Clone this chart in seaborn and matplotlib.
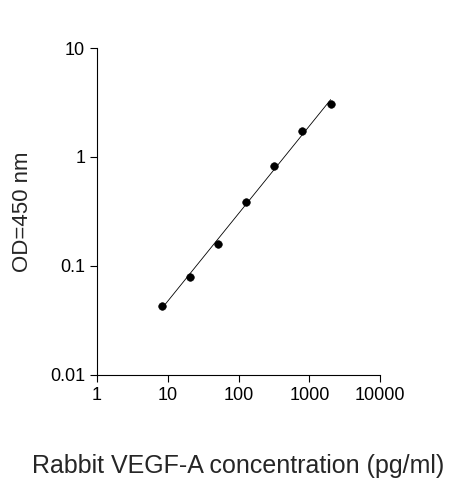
import numpy as np
import matplotlib
matplotlib.use("Agg")
import matplotlib.pyplot as plt
import seaborn as sns

sns.set_style("ticks")
plt.rcParams['font.family'] = ['Liberation Sans', 'DejaVu Sans']

conc = [8.19, 20.48, 51.2, 128, 320, 800, 2000]
od = [0.043, 0.079, 0.159, 0.39, 0.83, 1.73, 3.06]

fig = plt.figure(figsize=(4.63, 4.8), dpi=100)
ax = fig.add_axes([0.2095, 0.219, 0.6115, 0.681])

lx, ly = np.log10(conc), np.log10(od)
b, a = np.polyfit(lx, ly, 1)
xf = np.array([conc[0], conc[-1]])
ax.plot(xf, 10 ** (a + b * np.log10(xf)), color='black', lw=0.6)
sns.scatterplot(x=conc, y=od, ax=ax, color='black', s=30, edgecolor='black', zorder=3)

ax.set_xscale('log'); ax.set_yscale('log')
ax.set_xlim(1, 10000); ax.set_ylim(0.01, 10)
ax.set_xticks([1, 10, 100, 1000, 10000]); ax.set_xticklabels(['1', '10', '100', '1000', '10000'])
ax.set_yticks([0.01, 0.1, 1, 10]); ax.set_yticklabels(['0.01', '0.1', '1', '10'])
ax.minorticks_off()
ax.tick_params(labelsize=13, direction='out', length=5, width=0.8, colors='black')
for s in ['top', 'right']:
    ax.spines[s].set_visible(False)
for s in ['left', 'bottom']:
    ax.spines[s].set_linewidth(0.8); ax.spines[s].set_color('black')
ax.set_xlabel('Rabbit VEGF-A concentration (pg/ml)', fontsize=18, labelpad=36)
ax.set_ylabel('OD=450 nm', fontsize=16, labelpad=12)
fig.savefig('out.png', dpi=100)
